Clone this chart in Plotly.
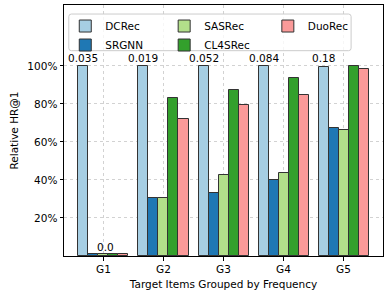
import plotly.graph_objects as go

groups = ["G1", "G2", "G3", "G4", "G5"]
methods = ["DCRec", "SRGNN", "SASRec", "CL4SRec", "DuoRec"]
colors = ["#a6cee3", "#1f78b4", "#b2df8a", "#33a02c", "#fb9a99"]
legend_ids = ["legend", "legend", "legend2", "legend2", "legend3"]

dcrec = [100, 100, 100, 100, 99.3]
srgnn = [1.0, 30.4, 33.3, 40.0, 67.5]
sasrec = [1.0, 30.4, 42.6, 43.5, 66.4]
cl4srec = [1.0, 83.0, 87.2, 93.7, 100]
duorec = [1.0, 72.1, 79.5, 84.6, 98.1]
values = [dcrec, srgnn, sasrec, cl4srec, duorec]

dcrec_abs_labels = ["0.035", "0.019", "0.052", "0.084", "0.18"]
g1_label = "0.0"

bar_w = 1 / 6
x_idx = list(range(len(groups)))

FONT = "DejaVu Sans, Arial, sans-serif"
FS = 10.5

fig = go.Figure()
for i, (m, vals, c, lg) in enumerate(zip(methods, values, colors, legend_ids)):
    off = (i - 2) * bar_w
    fig.add_trace(go.Bar(
        x=[k + off for k in x_idx], y=vals, width=bar_w, name=m,
        marker=dict(color=c, line=dict(color="#333333", width=1)),
        legend=lg,
    ))

annotations = []
for k, lab in enumerate(dcrec_abs_labels):
    annotations.append(dict(x=k - 2 * bar_w, y=100, text=lab, showarrow=False,
                            xanchor="center", yanchor="bottom", yshift=0,
                            font=dict(size=FS, color="black", family=FONT)))
annotations.append(dict(x=0.04, y=srgnn[0], text=g1_label, showarrow=False,
                        xanchor="center", yanchor="bottom", yshift=-1,
                        font=dict(size=FS, color="black", family=FONT)))

def leg(x):
    return dict(orientation="v", x=x, y=0.974, xanchor="left", yanchor="top",
                borderwidth=0, bgcolor="rgba(0,0,0,0)",
                font=dict(size=FS, family=FONT), tracegroupgap=0)

# rounded legend frame (paper coords)
x0, x1, y0, y1, r = 0.015, 0.90, 0.818, 0.964, 0.008
ry = r * 319 / 251
frame = (f"M {x0+r},{y1} L {x1-r},{y1} Q {x1},{y1} {x1},{y1-ry} "
         f"L {x1},{y0+ry} Q {x1},{y0} {x1-r},{y0} L {x0+r},{y0} "
         f"Q {x0},{y0} {x0},{y0+ry} L {x0},{y1-ry} Q {x0},{y1} {x0+r},{y1} Z")

fig.update_layout(
    width=390, height=299,
    margin=dict(l=64, r=7, t=5, b=43),
    plot_bgcolor="white", paper_bgcolor="white",
    font=dict(family=FONT, size=FS, color="black"),
    barmode="overlay",
    bargap=0,
    showlegend=True,
    legend=leg(0.004),
    legend2=leg(0.314),
    legend3=leg(0.639),
    shapes=[dict(type="path", path=frame, xref="paper", yref="paper",
                 line=dict(color="#cccccc", width=1), fillcolor="rgba(255,255,255,0.8)",
                 layer="above")],
    annotations=annotations,
)
fig.update_xaxes(
    range=[-0.658, 4.658], tickmode="array", tickvals=x_idx, ticktext=groups,
    showgrid=True, gridcolor="#d2d2d2", griddash="dot", gridwidth=1,
    showline=True, linecolor="black", linewidth=1, mirror=True,
    ticks="outside", ticklen=3.5, tickcolor="black",
    title=dict(text="Target Items Grouped by Frequency", font=dict(size=FS), standoff=6),
    zeroline=False, automargin=False,
)
fig.update_yaxes(
    range=[0, 132], tickmode="array", tickvals=[20, 40, 60, 80, 100],
    ticktext=["20%", "40%", "60%", "80%", "100%"],
    showgrid=True, gridcolor="#d2d2d2", griddash="dot", gridwidth=1,
    showline=True, linecolor="black", linewidth=1, mirror=True,
    ticks="outside", ticklen=3.5, tickcolor="black",
    title=dict(text="Relative HR@1", font=dict(size=FS), standoff=6),
    zeroline=False, automargin=False,
)
fig.write_html("out.html", config={"displayModeBar": False},
               post_script="document.body.style.margin='0';document.body.style.overflow='hidden';")
